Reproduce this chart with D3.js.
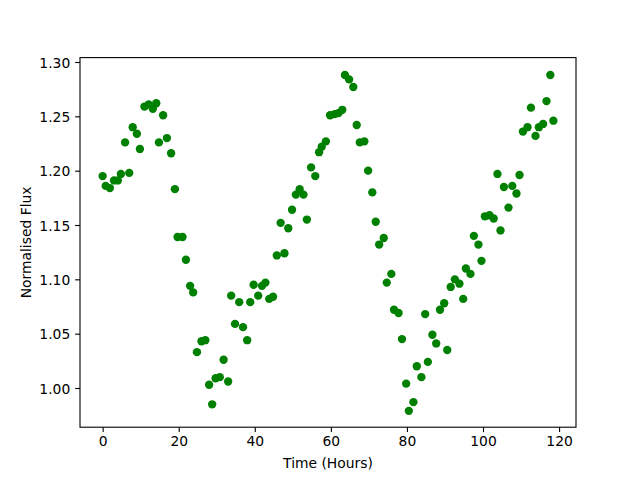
<!DOCTYPE html>
<html>
<head>
<meta charset="utf-8">
<script src="https://cdn.jsdelivr.net/npm/d3@7"></script>
<style>
html,body{margin:0;padding:0;background:#fff;}
svg{display:block;}
text{font-family:"DejaVu Sans",sans-serif;fill:#000;}
</style>
</head>
<body>
<svg id="chart" width="640" height="480"></svg>
<script>
const timeHours = [0.0,0.8,1.9,3.0,4.0,4.8,5.9,7.0,7.9,9.0,9.8,11.0,12.1,13.2,14.1,14.8,15.9,16.9,18.0,19.0,19.7,21.0,21.9,23.0,23.8,24.8,26.0,27.0,28.0,28.8,29.7,30.8,31.8,33.0,33.8,34.8,35.9,36.9,38.0,38.8,39.7,40.9,41.9,42.8,43.8,44.8,45.8,46.8,47.8,48.8,49.8,50.8,51.8,52.8,53.7,54.8,55.9,56.9,57.6,58.7,59.8,61.0,62.0,63.0,63.7,64.8,65.9,66.8,67.6,68.8,69.8,70.9,71.8,72.7,73.9,74.7,75.9,76.6,77.8,78.7,79.8,80.5,81.7,82.6,83.8,84.8,85.5,86.7,87.7,88.7,89.8,90.6,91.5,92.6,93.8,94.8,95.5,96.7,97.6,98.8,99.6,100.5,101.7,102.8,103.8,104.6,105.5,106.7,107.7,108.8,109.6,110.5,111.7,112.6,113.8,114.7,115.8,116.7,117.7,118.5];
const normFlux = [1.195,1.186,1.184,1.191,1.191,1.197,1.226,1.198,1.240,1.234,1.220,1.259,1.261,1.257,1.262,1.226,1.251,1.230,1.216,1.183,1.139,1.139,1.118,1.094,1.088,1.033,1.043,1.044,1.003,0.985,1.009,1.010,1.026,1.006,1.085,1.059,1.079,1.056,1.044,1.079,1.095,1.085,1.094,1.097,1.082,1.084,1.122,1.152,1.124,1.147,1.164,1.178,1.183,1.178,1.155,1.203,1.195,1.217,1.222,1.227,1.251,1.252,1.253,1.256,1.288,1.284,1.277,1.242,1.226,1.227,1.200,1.180,1.153,1.132,1.138,1.097,1.105,1.072,1.069,1.045,1.004,0.979,0.987,1.020,1.010,1.068,1.024,1.049,1.041,1.072,1.078,1.035,1.093,1.100,1.096,1.082,1.110,1.105,1.140,1.132,1.117,1.158,1.159,1.156,1.197,1.145,1.185,1.166,1.186,1.179,1.196,1.236,1.240,1.258,1.232,1.240,1.243,1.264,1.288,1.246];
const xTicks = [0,20,40,60,80,100,120];
const yTicks = [1.00,1.05,1.10,1.15,1.20,1.25,1.30];
const xLabel = "Time (Hours)";
const yLabel = "Normalised Flux";

const svg = d3.select("#chart");
const L = 80, R = 576, T = 57.6, B = 427.2;
const x = d3.scaleLinear().domain([-5.95, 124.45]).range([L, R]);
const y = d3.scaleLinear().domain([0.96393, 1.30405]).range([B, T]);

const g = svg.append("g");
g.selectAll("circle").data(timeHours.map((t,i)=>[t,normFlux[i]])).enter()
  .append("circle")
  .attr("cx", d=>x(d[0])).attr("cy", d=>y(d[1])).attr("r", 4.17)
  .attr("fill", "#008000");

const xAxis = svg.append("g").attr("transform", `translate(0,${B})`)
  .call(d3.axisBottom(x).tickValues(xTicks).tickFormat(d3.format("d")).tickSize(4.86).tickPadding(4.3));
const yAxis = svg.append("g").attr("transform", `translate(${L},0)`)
  .call(d3.axisLeft(y).tickValues(yTicks).tickFormat(d3.format(".2f")).tickSize(4.86).tickPadding(4.9));
[xAxis, yAxis].forEach(a => {
  a.select(".domain").remove();
  a.selectAll(".tick line").attr("stroke", "#000").attr("stroke-width", 1.1);
  a.selectAll(".tick text").attr("font-family", "DejaVu Sans").attr("font-size", "13.89px").attr("fill", "#000");
});
yAxis.selectAll(".tick text").attr("dy", "0.36em");

svg.append("rect").attr("x", L).attr("y", T).attr("width", R-L).attr("height", B-T)
  .attr("fill", "none").attr("stroke", "#000").attr("stroke-width", 1.1);

svg.append("text").attr("x", (L+R)/2).attr("y", 468).attr("text-anchor", "middle")
  .attr("font-size", "13.89px").text(xLabel);
svg.append("text").attr("transform", `translate(31,${(T+B)/2}) rotate(-90)`).attr("text-anchor", "middle")
  .attr("font-size", "13.89px").text(yLabel);
</script>
</body>
</html>
